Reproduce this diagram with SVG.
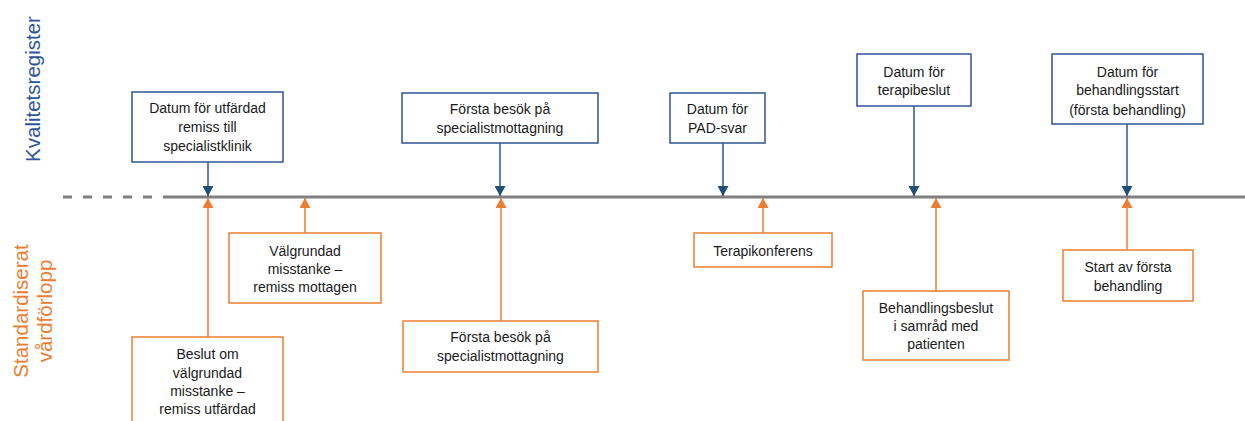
<svg xmlns="http://www.w3.org/2000/svg" width="1245" height="421" viewBox="0 0 1245 421">
<style>
.bb{fill:#fff;stroke:#2f5496;stroke-width:1.5}
.ob{fill:#fff;stroke:#ed7d31;stroke-width:1.5}
.t{font-family:"Liberation Sans",Arial,sans-serif;font-size:14px;fill:#1a1a1a;text-anchor:middle}
.bl{stroke:#2f5496;stroke-width:1.5;fill:none;marker-end:url(#ab)}
.ol{stroke:#ed7d31;stroke-width:1.5;fill:none;marker-end:url(#ao)}
.lane{font-family:"Liberation Sans",Arial,sans-serif;font-size:20.5px;text-anchor:middle}
</style>
<defs>
<marker id="ab" markerUnits="userSpaceOnUse" markerWidth="12" markerHeight="11" refX="10" refY="5.5" orient="auto" viewBox="0 0 10 11"><path d="M0,0 L10,5.5 L0,11 Z" fill="#1f4e79"/></marker>
<marker id="ao" markerUnits="userSpaceOnUse" markerWidth="12" markerHeight="11" refX="10" refY="5.5" orient="auto" viewBox="0 0 10 11"><path d="M0,0 L10,5.5 L0,11 Z" fill="#ed7d31"/></marker>
</defs>
<rect width="1245" height="421" fill="#fff"/>
<text class="lane" fill="#2f5597" transform="translate(40,89) rotate(-90)">Kvalitetsregister</text>
<text class="lane" fill="#ed7d31" transform="translate(28,311) rotate(-90)">Standardiserat</text>
<text class="lane" fill="#ed7d31" transform="translate(52,311) rotate(-90)">vårdförlopp</text>
<g id="timeline">
<line x1="63" y1="197" x2="160" y2="197" stroke="#7f7f7f" stroke-width="3" stroke-dasharray="9,11"/>
<line x1="163" y1="197" x2="1245" y2="197" stroke="#7f7f7f" stroke-width="3"/>
</g>
<g id="connectors">
<line class="bl" x1="208" y1="162" x2="208" y2="196"/>
<line class="bl" x1="500" y1="143" x2="500" y2="196"/>
<line class="bl" x1="723" y1="143" x2="723" y2="196"/>
<line class="bl" x1="914" y1="106" x2="914" y2="196"/>
<line class="bl" x1="1127" y1="124" x2="1127" y2="196"/>
<line class="ol" x1="208" y1="337" x2="208" y2="198"/>
<line class="ol" x1="305" y1="233" x2="305" y2="198"/>
<line class="ol" x1="501" y1="321" x2="501" y2="198"/>
<line class="ol" x1="763" y1="233" x2="763" y2="198"/>
<line class="ol" x1="936" y1="291" x2="936" y2="198"/>
<line class="ol" x1="1127" y1="250" x2="1127" y2="198"/>
</g>
<g id="kr1"><rect class="bb" x="132" y="92" width="151" height="70"/>
<text class="t" x="207.5" y="113">Datum för utfärdad</text><text class="t" x="207.5" y="132">remiss till</text><text class="t" x="207.5" y="151">specialistklinik</text></g>
<g id="kr2"><rect class="bb" x="402" y="93" width="196" height="50"/>
<text class="t" x="500" y="114">Första besök på</text><text class="t" x="500" y="133">specialistmottagning</text></g>
<g id="kr3"><rect class="bb" x="670" y="93" width="95" height="50"/>
<text class="t" x="717.5" y="114">Datum för</text><text class="t" x="717.5" y="133">PAD-svar</text></g>
<g id="kr4"><rect class="bb" x="857" y="54" width="114" height="52"/>
<text class="t" x="914" y="77">Datum för</text><text class="t" x="914" y="95">terapibeslut</text></g>
<g id="kr5"><rect class="bb" x="1052" y="54" width="151" height="70"/>
<text class="t" x="1127.5" y="77">Datum för</text><text class="t" x="1127.5" y="95">behandlingsstart</text><text class="t" x="1127.5" y="115">(första behandling)</text></g>
<g id="svf1"><rect class="ob" x="132" y="337" width="151" height="90"/>
<text class="t" x="207.5" y="359">Beslut om</text><text class="t" x="207.5" y="378">välgrundad</text><text class="t" x="207.5" y="396">misstanke –</text><text class="t" x="207.5" y="414">remiss utfärdad</text></g>
<g id="svf2"><rect class="ob" x="229" y="233" width="152" height="70"/>
<text class="t" x="305" y="256">Välgrundad</text><text class="t" x="305" y="274">misstanke –</text><text class="t" x="305" y="292">remiss mottagen</text></g>
<g id="svf3"><rect class="ob" x="403" y="321" width="195" height="51"/>
<text class="t" x="500.5" y="342">Första besök på</text><text class="t" x="500.5" y="361">specialistmottagning</text></g>
<g id="svf4"><rect class="ob" x="694" y="233" width="138" height="34"/>
<text class="t" x="763" y="256">Terapikonferens</text></g>
<g id="svf5"><rect class="ob" x="863" y="291" width="146" height="69"/>
<text class="t" x="936" y="313">Behandlingsbeslut</text><text class="t" x="936" y="331">i samråd med</text><text class="t" x="936" y="349">patienten</text></g>
<g id="svf6"><rect class="ob" x="1063" y="250" width="130" height="51"/>
<text class="t" x="1128" y="272">Start av första</text><text class="t" x="1128" y="291">behandling</text></g>
</svg>
